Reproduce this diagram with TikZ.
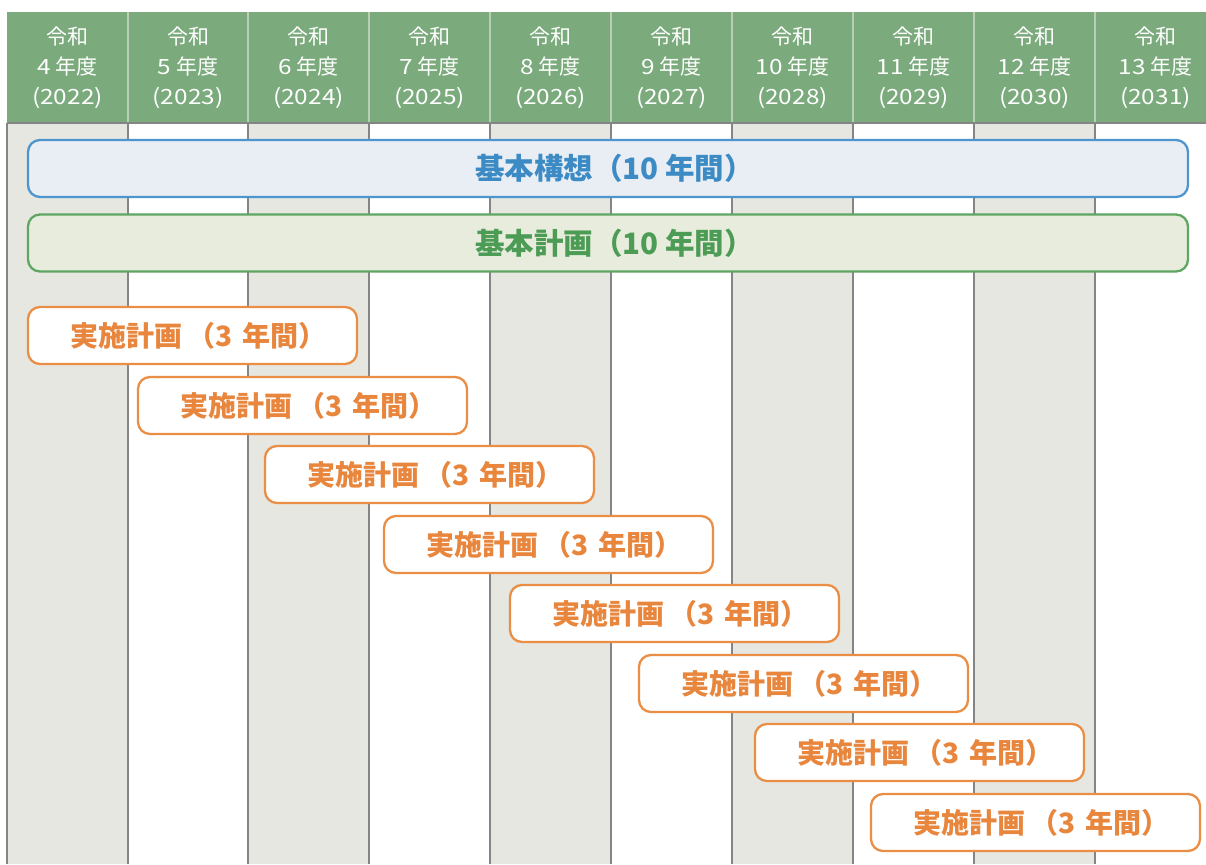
\documentclass[tikz,border=0pt]{standalone}
\usepackage{fontspec}
\newfontfamily\jp{Noto Sans CJK JP}
\newfontfamily\jpwide{Noto Sans CJK JP}[FakeStretch=1.16]
\definecolor{hdrgreen}{HTML}{7BAA7C}
\definecolor{hdrline}{HTML}{B9CFB3}
\definecolor{colgray}{HTML}{E6E7E1}
\definecolor{colline}{HTML}{858585}
\definecolor{bluebd}{HTML}{4F95CD}
\definecolor{bluefill}{HTML}{E9EEF4}
\definecolor{bluetxt}{HTML}{3D8BC5}
\definecolor{greenbd}{HTML}{5FA663}
\definecolor{greenfill}{HTML}{E8ECDD}
\definecolor{greentxt}{HTML}{4C9C55}
\definecolor{orangebd}{HTML}{EA8D45}
\definecolor{orangetxt}{HTML}{E8863D}
\tikzset{
  hdrtext/.style={text=white, align=center, inner sep=0pt,
    font=\jp\fontsize{21}{30}\selectfont},
  longbar/.style={rounded corners=12pt, line width=2.3pt, minimum width=1160pt,
    minimum height=57pt, inner sep=0pt, font=\jp\bfseries\fontsize{29.5}{30}\selectfont},
  visionbar/.style={longbar, draw=bluebd, fill=bluefill, text=bluetxt},
  basicbar/.style={longbar, draw=greenbd, fill=greenfill, text=greentxt},
  planbox/.style={rounded corners=12pt, line width=2.3pt, draw=orangebd, fill=white,
    text=orangetxt, minimum width=329pt, minimum height=57pt, inner sep=0pt,
    font=\jp\bfseries\fontsize{28}{30}\selectfont},
  colsep/.style={draw=colline, line width=1.3pt},
  hdrsep/.style={draw=hdrline, line width=1.3pt}
}
\newcommand\plantext{実施計画\kern0.15em（3\ \kern0.15em年間）\kern-0.45em}
\begin{document}
\begin{tikzpicture}[x=1pt,y=-1pt]
\useasboundingbox (0,0) rectangle (1206,864);
\fill[white] (0,0) rectangle (1206,864);
% shaded columns
\foreach \i in {0,2,4,6,8}
  \fill[colgray] ({7+121*\i},123) rectangle ({128+121*\i},864);
% column lines
\foreach \xx in {7,128,248,369,490,611,732,853,974,1095}
  \draw[colsep] (\xx,123) -- (\xx,864);
% header
\fill[hdrgreen] (7,12) rectangle (1206,123);
\foreach \xx in {128,248,369,490,611,732,853,974,1095}
  \draw[hdrsep] (\xx,12) -- (\xx,123);
\draw[colsep] (7,123) -- (1206,123);
\foreach \n/\cx/\yr/\ad in {1/67.5/4/2022, 2/188/5/2023, 3/308.5/6/2024, 4/429.5/7/2025,
  5/550.5/8/2026, 6/671.5/9/2027, 7/792.5/10/2028, 8/913.5/11/2029, 9/1034.5/12/2030, 10/1155.5/13/2031}
  \node[hdrtext] (h\n) at (\cx,68) {令和\\{\jpwide\yr}\ 年度\\{\jpwide(\ad)}};
% long bars
\node[visionbar] (vision) at (608,168.5) {基本構想（10\ 年間）\kern-0.45em};
\node[basicbar] (basic) at (608,243) {基本計画（10\ 年間）\kern-0.45em};
% implementation plans
\foreach \n/\l/\t in {1/28/307, 2/138/377, 3/265/446, 4/384/516, 5/510/585, 6/639/655, 7/755/724, 8/871/794}
  \node[planbox] (p\n) at ({\l+164.5},{\t+28.5}) {\plantext};
\end{tikzpicture}
\end{document}
